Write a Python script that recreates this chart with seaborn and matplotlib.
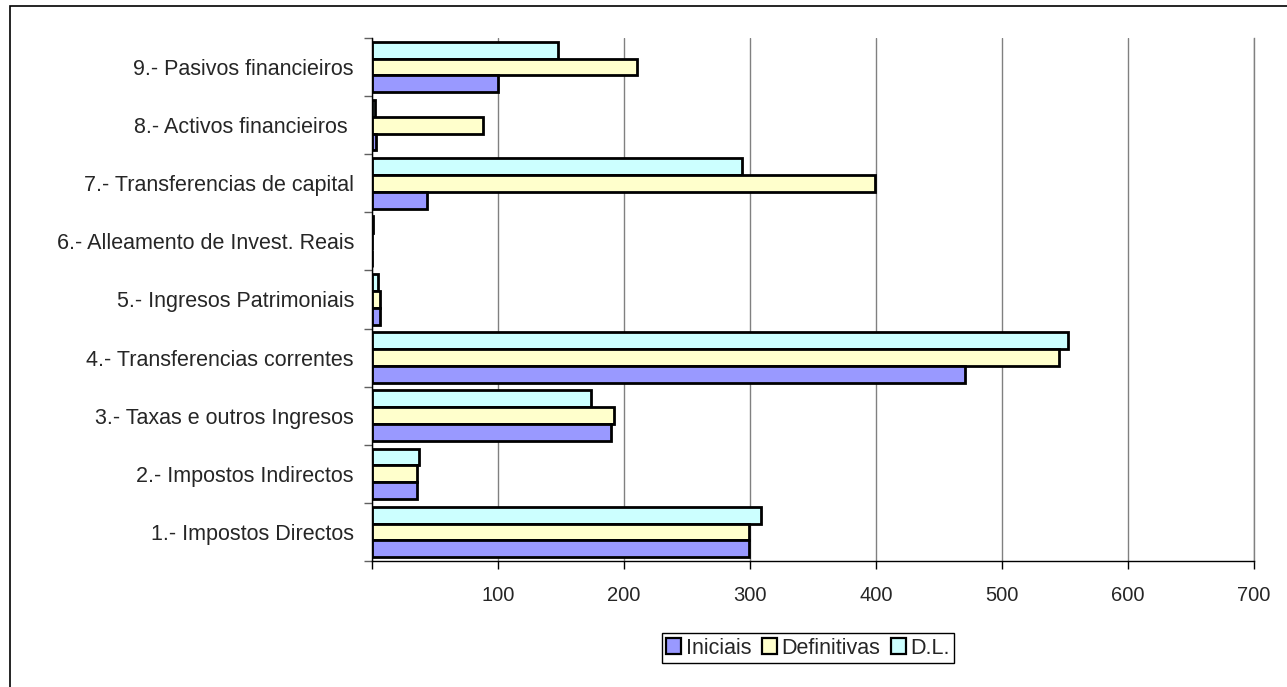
import pandas as pd
import matplotlib.pyplot as plt
import seaborn as sns
from matplotlib.patches import Patch, Rectangle

# Capítulos de ingresos (de abaixo a arriba)
categories = [
    "1.- Impostos Directos",
    "2.- Impostos Indirectos",
    "3.- Taxas e outros Ingresos",
    "4.- Transferencias correntes",
    "5.- Ingresos Patrimoniais",
    "6.- Alleamento de Invest. Reais",
    "7.- Transferencias de capital",
    "8.- Activos financieiros ",
    "9.- Pasivos financieiros",
]
iniciais = [299, 36, 190, 471, 6, 0, 44, 3, 100]
definitivas = [299, 36, 192, 545, 6, 0, 399, 88, 210]
dl = [309, 37, 174, 552, 4.5, 1, 294, 2, 148]

series = ["Iniciais", "Definitivas", "D.L."]
colors = {"Iniciais": "#9999FF", "Definitivas": "#FFFFCC", "D.L.": "#CCFFFF"}
x_ticks = [0, 100, 200, 300, 400, 500, 600, 700]

rows = []
for name, vals in zip(series, [iniciais, definitivas, dl]):
    for cat, v in zip(categories, vals):
        rows.append({"categoria": cat, "serie": name, "valor": v})
df = pd.DataFrame(rows)

sns.set_style("white")
plt.rcParams["font.family"] = ["Liberation Sans", "DejaVu Sans"]

fig = plt.figure(figsize=(12.87, 6.87), dpi=100)
ax = fig.add_axes([372 / 1287, 1 - 561 / 687, (1254 - 372) / 1287, (561 - 38) / 687])

sns.barplot(data=df, x="valor", y="categoria", hue="serie",
            order=categories[::-1], hue_order=series[::-1],
            palette=colors, saturation=1, width=0.87,
            edgecolor="black", linewidth=2,
            orient="h", legend=False, errorbar=None, ax=ax)

ax.set_xlim(0, 700)
ax.set_ylim(8.5, -0.5)
ax.set_xticks(x_ticks)
ax.set_xticklabels(["" if t == 0 else str(t) for t in x_ticks], fontsize=14.5)
ax.set_yticks(range(len(categories)))
ax.set_yticklabels(categories[::-1], fontsize=15.5)
ax.set_yticks([i - 0.5 for i in range(len(categories) + 1)], minor=True)
ax.tick_params(axis="y", which="major", length=0, pad=13)
ax.tick_params(axis="y", which="minor", length=6, width=1, color="#606060", direction="out", left=True)
ax.tick_params(axis="x", length=6, width=1, color="black", direction="out", bottom=True, pad=12)
ax.set_xlabel("")
ax.set_ylabel("")

ax.grid(axis="x", color="#808080", linewidth=1)
ax.set_axisbelow(True)
ax.spines["top"].set_visible(False)
ax.spines["right"].set_color("#808080")
ax.spines["right"].set_linewidth(1)
for s in ["left", "bottom"]:
    ax.spines[s].set_color("black")
    ax.spines[s].set_linewidth(1)

handles = [Patch(facecolor=colors[s], edgecolor="black", linewidth=1.6) for s in series]
leg = fig.legend(handles, series, loc="center", bbox_to_anchor=(808 / 1287, 1 - 648 / 687),
                 ncol=3, fontsize=15.5, frameon=True, fancybox=False, framealpha=1,
                 handlelength=0.7, handleheight=0.7, handletextpad=0.2,
                 columnspacing=0.5, borderpad=0.2, borderaxespad=0)
leg.get_frame().set_edgecolor("black")
leg.get_frame().set_linewidth(1)

# marco exterior do gráfico
fig.patches.append(Rectangle((10 / 1287, -0.1), 1.2, 1 - 6 / 687 + 0.1,
                             transform=fig.transFigure, fill=False,
                             edgecolor="black", linewidth=1.2))

fig.savefig("out.png", dpi=100)
